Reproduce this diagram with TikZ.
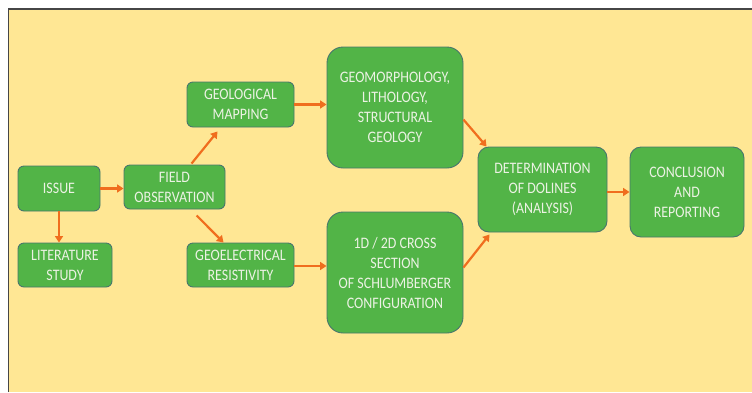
\documentclass[tikz,border=0pt]{standalone}
\usepackage{fontspec}
\setmainfont{Carlito}[FakeStretch=0.87]
\usetikzlibrary{arrows.meta,calc}
\definecolor{bgyellow}{RGB}{255,231,148}
\definecolor{frameline}{RGB}{70,70,70}
\definecolor{boxgreen}{RGB}{82,180,71}
\definecolor{boxedge}{RGB}{72,118,108}
\definecolor{boxtext}{RGB}{236,242,228}
\definecolor{arroworange}{RGB}{240,110,30}
\tikzset{
  box/.style={draw=boxedge, line width=0.9pt, fill=boxgreen, text=boxtext,
    align=center, inner sep=0pt, rounded corners=6pt,
    font=\fontsize{16}{20}\selectfont},
  bigbox/.style={box, rounded corners=16pt},
  midbox/.style={box, rounded corners=11pt},
  flow/.style={draw=arroworange, line width=2.2pt,
    -{Triangle[length=6.5pt,width=8pt]}}
}
\begin{document}
\begin{tikzpicture}[x=1pt,y=-1pt]
\useasboundingbox (0,0) rectangle (752,392);
\fill[white] (0,0) rectangle (752,392);
\fill[bgyellow] (8.5,9) rectangle (752,392);
\draw[frameline, line width=1.4pt] (8.5,392) -- (8.5,9) -- (752,9);

\node[box, minimum width=82pt, minimum height=45pt] (issue) at (59,188.5) {ISSUE};
\node[box, minimum width=94pt, minimum height=44pt] (lit) at (65,265) {LITERATURE\\STUDY};
\node[box, minimum width=101pt, minimum height=44pt] (field) at (174.5,187) {FIELD\\OBSERVATION};
\node[box, minimum width=107pt, minimum height=45pt] (geomap) at (240.5,104.5) {GEOLOGICAL\\MAPPING};
\node[box, minimum width=107pt, minimum height=44pt] (geores) at (240.5,265) {GEOELECTRICAL\\RESISTIVITY};
\node[bigbox, minimum width=136pt, minimum height=121pt] (geomorph) at (395,107.5) {GEOMORPHOLOGY,\\LITHOLOGY,\\STRUCTURAL\\GEOLOGY};
\node[bigbox, minimum width=136pt, minimum height=121pt] (cross) at (395,272.5) {1D / 2D CROSS\\SECTION\\OF SCHLUMBERGER\\CONFIGURATION};
\node[midbox, minimum width=129pt, minimum height=85pt] (det) at (542.5,189.5) {DETERMINATION\\OF DOLINES\\(ANALYSIS)};
\node[midbox, minimum width=114pt, minimum height=90pt] (concl) at (687,192) {CONCLUSION\\AND\\REPORTING};

\draw[flow] (issue.east) -- (issue.east -| field.west);
\draw[flow] (issue.south) -- (issue.south |- lit.north);
\draw[flow] ($(field.north west)+(68,-1)$) -- ($(geomap.south west)+(31,4)$);
\draw[flow] ($(field.south west)+(73,6)$) -- ($(geores.north west)+(37,0)$);
\draw[flow] (geomap.east) -- (geomap.east -| geomorph.west);
\draw[flow] ($(geores.east)+(0,1)$) -- ($(geores.east -| cross.west)+(0,1)$);
\draw[flow] ($(geomorph.north east)+(0,73)$) -- ($(det.north west)+(9,0)$);
\draw[flow] ($(cross.north east)+(0,56)$) -- ($(det.south west)+(12,2)$);
\draw[flow] ($(det.east)+(0,2.5)$) -- ($(det.east -| concl.west)+(0,2.5)$);
\end{tikzpicture}
\end{document}
